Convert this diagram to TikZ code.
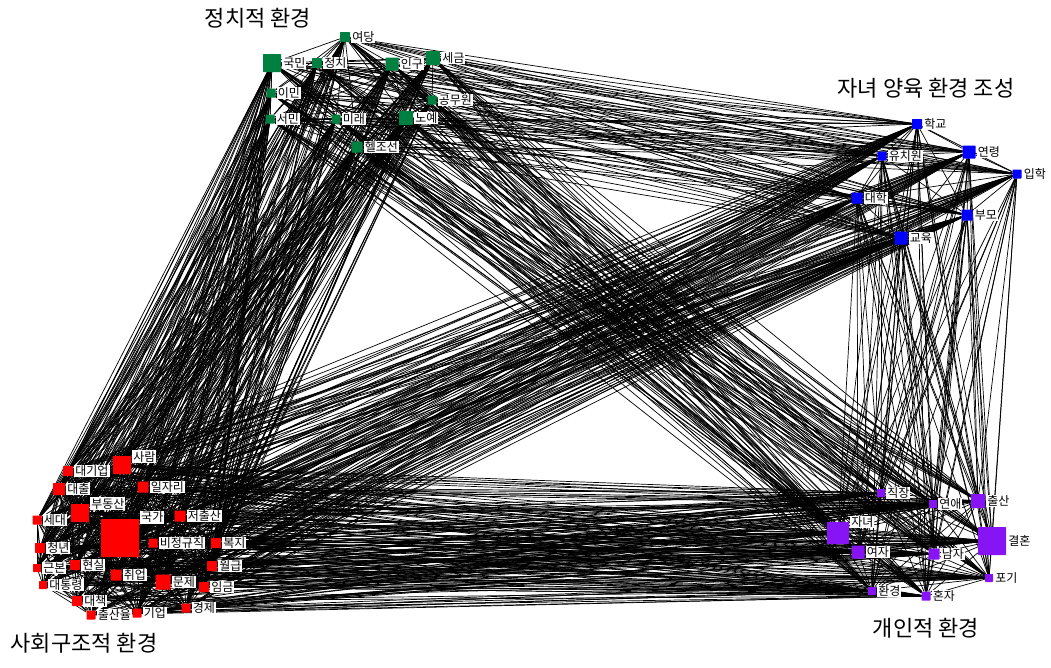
\documentclass[tikz,border=0pt]{standalone}
\usepackage{fontspec}
\setmainfont{Noto Sans CJK KR}
\usetikzlibrary{backgrounds}

\definecolor{polgreen}{RGB}{0,128,64}
\definecolor{edublue}{RGB}{0,0,255}
\definecolor{socred}{RGB}{255,0,0}
\definecolor{indpurple}{RGB}{135,20,245}

\begin{document}
\begin{tikzpicture}[x=1pt, y=-1pt,
    sq/.style={rectangle, inner sep=0pt, rounded corners=0.6pt},
    pol/.style={sq, fill=polgreen},
    edu/.style={sq, fill=edublue},
    soc/.style={sq, fill=socred},
    ind/.style={sq, fill=indpurple},
    lbl/.style={fill=white, inner sep=1pt, font=\fontsize{12}{13}\selectfont, label distance=1pt},
    title/.style={font=\fontsize{22}{26}\selectfont},
    link/.style={line width=0.7pt, black}
]
\useasboundingbox (0,0) rectangle (1051,667);

% political environment (green)
\foreach \n/\x/\y/\s/\a/\t in {yeodang/345/37/10/0/여당, gukmin/272/63/18/0/국민,
    jeongchi/317/63/10/0/정치, ingu/392/64/13/0/인구, segeum/433/58/14/0/세금,
    imin/271/93/9/0/이민, gongmuwon/432/100/9/0/공무원, seomin/270/119/9/0/서민,
    mirae/336/119/9/0/미래, noye/406/118/14/0/노예, heljoseon/357/147/11/0/헬조선}{
    \node[pol, minimum size=\s pt, label={[lbl]\a:\t}] (\n) at (\x,\y) {};
}

% child rearing (blue)
\foreach \n/\x/\y/\s/\a/\t in {hakgyo/917/124/10/0/학교, yuchiwon/882/156/9/0/유치원,
    yeonryeong/969/152/13/0/연령, iphak/1017/174/9/0/입학, daehak/857/198/11/0/대학,
    bumo/967/215/11/0/부모, gyoyuk/901/238/13/0/교육}{
    \node[edu, minimum size=\s pt, label={[lbl]\a:\t}] (\n) at (\x,\y) {};
}

% social structure (red)
\foreach \n/\x/\y/\s/\a/\t in {daegieop/68/471/10/0/대기업, saram/122/465/18/10/사람,
    daechul/59/489/12/0/대출, iljari/143/487/11/0/일자리, budongsan/80/513/18/15/부동산,
    sedae/37/520/9/0/세대, gukga/120/538/38/35/국가, jeochulsan/180/516/11/0/저출산,
    bijeonggyu/153/543/9/0/비정규직, bokji/216/543/10/0/복지, cheongnyeon/40/548/10/0/청년,
    geunbon/37/568/8/0/근본, hyeonsil/75/565/10/0/현실, wolgeup/212/566/10/0/월급,
    chwieop/116/575/11/0/취업, daetongryeong/43/585/8/0/대통령, munje/163/582/15/0/문제,
    imgeum/204/587/10/0/임금, daechaek/77/601/10/0/대책, chulsanyul/91/615/9/0/출산율,
    gieop/137/613/9/0/기업, gyeongje/186/608/9/0/경제}{
    \node[soc, minimum size=\s pt, label={[lbl]\a:\t}] (\n) at (\x,\y) {};
}

% individual (purple)
\foreach \n/\x/\y/\s/\a/\t in {jikjang/881/493/8/0/직장, yeonae/933/504/8/0/연애,
    chulsan/978/501/14/0/출산, janyeo/838/533/22/20/자녀, gyeolhon/992/541/28/0/결혼,
    yeoja/858/552/13/0/여자, namja/934/554/11/0/남자, pogi/989/578/8/0/포기,
    hwangyeong/872/591/8/0/환경, honja/926/596/9/0/혼자}{
    \node[ind, minimum size=\s pt, label={[lbl]\a:\t}] (\n) at (\x,\y) {};
}

% co-occurrence links
\def\allnodes{yeodang,gukmin,jeongchi,ingu,segeum,imin,gongmuwon,seomin,mirae,noye,heljoseon,
    hakgyo,yuchiwon,yeonryeong,iphak,daehak,bumo,gyoyuk,
    daegieop,saram,daechul,iljari,budongsan,sedae,gukga,jeochulsan,bijeonggyu,bokji,
    cheongnyeon,geunbon,hyeonsil,wolgeup,chwieop,daetongryeong,munje,imgeum,daechaek,
    chulsanyul,gieop,gyeongje,
    jikjang,yeonae,chulsan,janyeo,gyeolhon,yeoja,namja,pogi,hwangyeong,honja}
\begin{pgfonlayer}{background}
\foreach \p [count=\i] in \allnodes{
    \foreach \q [count=\j] in \allnodes{
        \ifnum\j>\i \draw[link] (\p) -- (\q); \fi
    }
}
\end{pgfonlayer}

% group titles
\node[title] (tpol) at (258,18) {정치적 환경};
\node[title] (tedu) at (926,88) {자녀 양육 환경 조성};
\node[title] (tsoc) at (84,643) {사회구조적 환경};
\node[title] (tind) at (926,628) {개인적 환경};

\end{tikzpicture}
\end{document}
